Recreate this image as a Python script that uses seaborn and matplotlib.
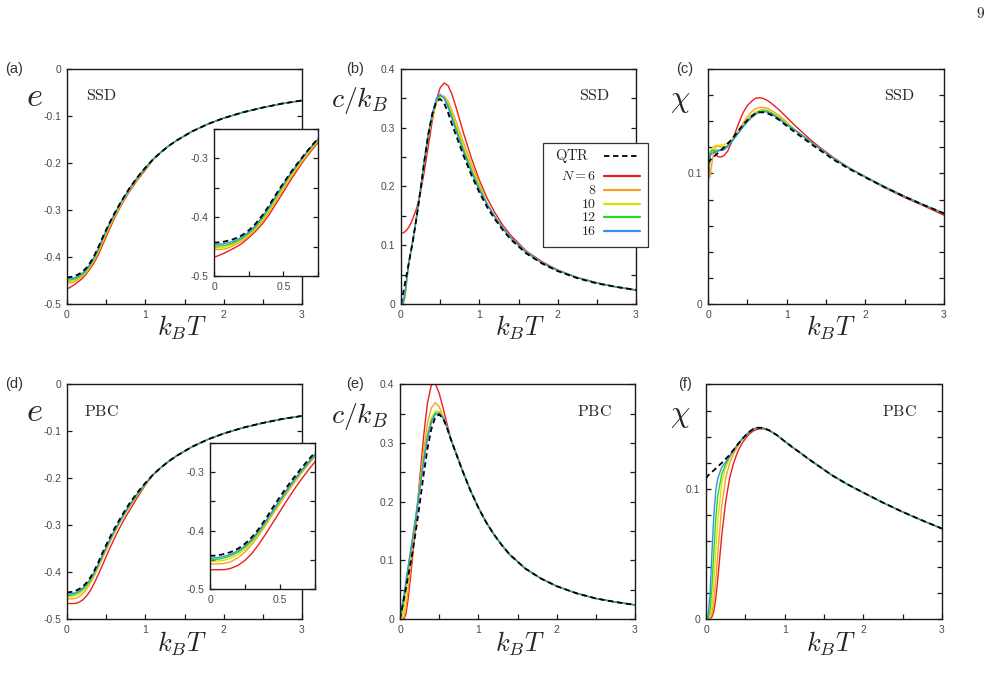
import matplotlib
matplotlib.use("Agg")
import matplotlib.pyplot as plt
from matplotlib.lines import Line2D
from matplotlib.patches import Rectangle
from matplotlib.ticker import MultipleLocator
import seaborn as sns

# temperature grid (k_B T)
T_lo = [0, 0.025, 0.05, 0.075, 0.1, 0.125, 0.15, 0.2, 0.25, 0.3, 0.35, 0.4,
        0.45, 0.5, 0.55, 0.6, 0.65, 0.7, 0.75, 0.8, 0.9, 1.0]
T_hi = [1.1, 1.2, 1.3, 1.4, 1.6, 1.8, 2.0, 2.25, 2.5, 2.75, 3.0]
T = T_lo + T_hi

sizes = ["6", "8", "10", "12", "16"]
colors = ["#ee1d1d", "#f7a02a", "#e4dc00", "#1fdc1f", "#3a8fe4"]

# QTR (thermodynamic limit), same in both rows
e_qtr = [-0.443, -0.443, -0.4425, -0.4415, -0.440, -0.4385, -0.4365, -0.431, -0.4225, -0.411, -0.3965,
         -0.379, -0.360, -0.342, -0.325, -0.309, -0.294, -0.2795, -0.266, -0.253, -0.230, -0.210]
e_tail = [-0.192, -0.177, -0.1635, -0.152, -0.1325, -0.117, -0.1045, -0.092, -0.082, -0.0735, -0.067]
c_qtr = [0.0, 0.017, 0.035, 0.052, 0.070, 0.088, 0.106, 0.148, 0.195, 0.245, 0.290,
         0.324, 0.344, 0.349, 0.342, 0.326, 0.306, 0.288, 0.270, 0.252, 0.219, 0.190]
c_tail = [0.165, 0.144, 0.126, 0.110, 0.086, 0.069, 0.056, 0.044, 0.035, 0.029, 0.024]
chi_qtr = [0.108, 0.110, 0.1115, 0.1128, 0.1142, 0.1156, 0.117, 0.1198, 0.1228, 0.126, 0.1298,
           0.1338, 0.1375, 0.1408, 0.1436, 0.1458, 0.1468, 0.1468, 0.1461, 0.1449, 0.1412, 0.1364]
chi_tail = [0.1318, 0.1275, 0.1230, 0.1188, 0.1104, 0.1033, 0.0970, 0.0893, 0.0822, 0.0756, 0.0694]

# (a) energy, SSD
e_ssd_6 = [-0.468, -0.466, -0.4635, -0.461, -0.458, -0.455, -0.452, -0.445, -0.435, -0.424, -0.411,
           -0.395, -0.376, -0.357, -0.338, -0.320, -0.303, -0.2875, -0.273, -0.260, -0.236, -0.215]
e_ssd_8 = [-0.455, -0.455, -0.4548, -0.454, -0.4525, -0.450, -0.447, -0.441, -0.4325, -0.421, -0.407,
           -0.390, -0.371, -0.352, -0.334, -0.317, -0.301, -0.2855, -0.271, -0.258, -0.234, -0.213]
e_ssd_10 = [-0.452, -0.452, -0.4518, -0.451, -0.4495, -0.447, -0.4445, -0.4385, -0.430, -0.4185, -0.404,
            -0.387, -0.368, -0.349, -0.331, -0.314, -0.298, -0.283, -0.2695, -0.2565, -0.2325, -0.2115]
e_ssd_12 = [-0.449, -0.449, -0.4488, -0.448, -0.4467, -0.4448, -0.4425, -0.4365, -0.428, -0.4165, -0.4015,
            -0.384, -0.365, -0.346, -0.328, -0.312, -0.296, -0.2815, -0.268, -0.255, -0.231, -0.2105]
e_ssd_16 = [-0.446, -0.446, -0.4457, -0.445, -0.4437, -0.4420, -0.4400, -0.434, -0.4255, -0.414, -0.399,
            -0.3815, -0.3625, -0.344, -0.3265, -0.3105, -0.295, -0.2805, -0.267, -0.254, -0.2305, -0.210]

# (d) energy, PBC
e_pbc_6 = [-0.467, -0.467, -0.467, -0.467, -0.4668, -0.466, -0.4645, -0.4595, -0.451, -0.439, -0.423,
           -0.405, -0.386, -0.367, -0.348, -0.330, -0.313, -0.297, -0.282, -0.268, -0.2405, -0.2145]
e_pbc_8 = [-0.457, -0.457, -0.457, -0.4568, -0.4562, -0.455, -0.453, -0.4465, -0.4365, -0.4235, -0.4075,
           -0.390, -0.3715, -0.3535, -0.3355, -0.3185, -0.3025, -0.2875, -0.2735, -0.2605, -0.236, -0.2135]
e_pbc_10 = [-0.4525, -0.4525, -0.4523, -0.4518, -0.4508, -0.4492, -0.447, -0.441, -0.432, -0.420, -0.405,
            -0.3875, -0.369, -0.351, -0.333, -0.3165, -0.301, -0.286, -0.272, -0.259, -0.235, -0.2125]
e_pbc_12 = [-0.4495, -0.4495, -0.4492, -0.4484, -0.447, -0.4452, -0.443, -0.437, -0.4285, -0.417, -0.4025,
            -0.385, -0.367, -0.349, -0.3315, -0.315, -0.2995, -0.285, -0.271, -0.258, -0.234, -0.212]
e_pbc_16 = [-0.447, -0.4469, -0.4464, -0.4455, -0.4441, -0.4424, -0.4403, -0.4345, -0.426, -0.4145, -0.400,
            -0.383, -0.365, -0.347, -0.3295, -0.313, -0.298, -0.2835, -0.2695, -0.2565, -0.2325, -0.211]

# (b) specific heat, SSD
c_ssd_6 = [0.120, 0.121, 0.123, 0.126, 0.131, 0.137, 0.145, 0.163, 0.190, 0.228, 0.270,
           0.312, 0.346, 0.368, 0.376, 0.372, 0.357, 0.336, 0.313, 0.290, 0.248, 0.211]
c_ssd_8 = [0.0, 0.0, 0.010, 0.040, 0.068, 0.089, 0.107, 0.150, 0.196, 0.244, 0.287,
           0.318, 0.342, 0.353, 0.354, 0.345, 0.330, 0.312, 0.293, 0.274, 0.238, 0.206]
c_ssd_10 = [0.0, 0.0, 0.012, 0.042, 0.069, 0.089, 0.107, 0.150, 0.196, 0.245, 0.288,
            0.320, 0.344, 0.354, 0.352, 0.341, 0.325, 0.306, 0.287, 0.268, 0.232, 0.201]
c_ssd_12 = [0.0, 0.0, 0.014, 0.044, 0.070, 0.089, 0.107, 0.149, 0.196, 0.246, 0.289,
            0.322, 0.346, 0.355, 0.351, 0.338, 0.320, 0.300, 0.281, 0.262, 0.228, 0.197]
c_ssd_16 = [0.0, 0.002, 0.018, 0.046, 0.071, 0.089, 0.107, 0.149, 0.196, 0.247, 0.291,
            0.325, 0.349, 0.357, 0.350, 0.335, 0.316, 0.296, 0.277, 0.258, 0.224, 0.194]
c_ssd_tail_6 = [0.180, 0.155, 0.134, 0.117, 0.090, 0.072, 0.058, 0.045, 0.036, 0.029, 0.023]
c_ssd_tail = [0.170, 0.148, 0.129, 0.113, 0.088, 0.070, 0.057, 0.045, 0.036, 0.029, 0.024]

# (e) specific heat, PBC
c_pbc_6 = [0.0, 0.0, 0.0, 0.008, 0.030, 0.060, 0.092, 0.160, 0.236, 0.310, 0.368,
           0.399, 0.402, 0.385, 0.360, 0.333, 0.308, 0.289, 0.271, 0.253, 0.219, 0.190]
c_pbc_8 = [0.0, 0.0, 0.003, 0.018, 0.045, 0.075, 0.105, 0.165, 0.228, 0.287, 0.333,
           0.360, 0.369, 0.362, 0.346, 0.327, 0.307, 0.288, 0.270, 0.252, 0.219, 0.190]
c_pbc_10 = [0.0, 0.002, 0.015, 0.040, 0.068, 0.095, 0.120, 0.172, 0.225, 0.276, 0.318,
            0.343, 0.355, 0.354, 0.344, 0.327, 0.306, 0.288, 0.270, 0.252, 0.219, 0.190]
c_pbc_12 = [0.0, 0.012, 0.034, 0.058, 0.083, 0.107, 0.129, 0.174, 0.222, 0.270, 0.311,
            0.338, 0.351, 0.352, 0.343, 0.327, 0.306, 0.288, 0.270, 0.252, 0.219, 0.190]
c_pbc_16 = [0.0, 0.020, 0.042, 0.064, 0.086, 0.107, 0.128, 0.170, 0.218, 0.266, 0.307,
            0.335, 0.349, 0.350, 0.343, 0.327, 0.306, 0.288, 0.270, 0.252, 0.219, 0.190]

# (c) susceptibility, SSD
chi_ssd_6 = [0.090, 0.112, 0.118, 0.117, 0.1145, 0.113, 0.1125, 0.1135, 0.117, 0.124, 0.132,
             0.140, 0.147, 0.152, 0.155, 0.1575, 0.158, 0.1575, 0.156, 0.154, 0.149, 0.143]
chi_ssd_8 = [0.104, 0.097, 0.108, 0.117, 0.1205, 0.121, 0.1205, 0.120, 0.121, 0.1245, 0.129,
             0.134, 0.139, 0.1435, 0.147, 0.1495, 0.1505, 0.1505, 0.150, 0.1485, 0.1445, 0.1395]
chi_ssd_10 = [0.100, 0.112, 0.119, 0.121, 0.1215, 0.1215, 0.1215, 0.122, 0.1235, 0.1255, 0.1295,
              0.1335, 0.1375, 0.1415, 0.1445, 0.147, 0.1485, 0.149, 0.1485, 0.147, 0.143, 0.1385]
chi_ssd_12 = [0.097, 0.116, 0.118, 0.1175, 0.1175, 0.118, 0.118, 0.119, 0.1215, 0.1245, 0.1285,
              0.1325, 0.1365, 0.140, 0.1433, 0.1458, 0.1475, 0.148, 0.1477, 0.1465, 0.1425, 0.1378]
chi_ssd_16 = [0.104, 0.114, 0.1155, 0.116, 0.1165, 0.117, 0.1175, 0.118, 0.1205, 0.124, 0.128,
              0.132, 0.136, 0.1395, 0.1425, 0.145, 0.1468, 0.1474, 0.147, 0.1458, 0.1418, 0.1372]
chi_ssd_tail_6 = [0.137, 0.1315, 0.126, 0.121, 0.112, 0.104, 0.0972, 0.089, 0.0815, 0.075, 0.068]
chi_ssd_tail = [0.1335, 0.129, 0.1245, 0.1200, 0.1113, 0.1039, 0.0974, 0.0896, 0.0824, 0.0757, 0.0694]

# (f) susceptibility, PBC
chi_pbc_6 = [0.0, 0.0, 0.0002, 0.0015, 0.006, 0.016, 0.031, 0.064, 0.090, 0.108, 0.1195,
             0.128, 0.134, 0.1385, 0.142, 0.1443, 0.1456, 0.146, 0.1457, 0.1448, 0.1412, 0.1364]
chi_pbc_8 = [0.0, 0.0, 0.0008, 0.004, 0.014, 0.030, 0.050, 0.087, 0.108, 0.1195, 0.1268,
             0.1322, 0.1368, 0.1405, 0.1433, 0.1456, 0.1467, 0.1468, 0.1461, 0.1449, 0.1412, 0.1364]
chi_pbc_10 = [0.0, 0.0, 0.002, 0.010, 0.028, 0.052, 0.075, 0.104, 0.1165, 0.1235, 0.129,
              0.1335, 0.1374, 0.1408, 0.1436, 0.1458, 0.1468, 0.1468, 0.1461, 0.1449, 0.1412, 0.1364]
chi_pbc_12 = [0.0, 0.0005, 0.006, 0.025, 0.052, 0.078, 0.095, 0.111, 0.119, 0.1245, 0.1295,
              0.1337, 0.1375, 0.1408, 0.1436, 0.1458, 0.1468, 0.1468, 0.1461, 0.1449, 0.1412, 0.1364]
chi_pbc_16 = [0.0, 0.002, 0.018, 0.050, 0.080, 0.099, 0.108, 0.1165, 0.1205, 0.125, 0.1297,
              0.1338, 0.1375, 0.1408, 0.1436, 0.1458, 0.1468, 0.1468, 0.1461, 0.1449, 0.1412, 0.1364]

# tick labels
x_ticks, x_labels = [0, 1, 2, 3], ["0", "1", "2", "3"]
e_ticks = [0, -0.1, -0.2, -0.3, -0.4, -0.5]
e_labels = ["0", "-0.1", "-0.2", "-0.3", "-0.4", "-0.5"]
c_ticks, c_labels = [0, 0.1, 0.2, 0.3, 0.4], ["0", "0.1", "0.2", "0.3", "0.4"]
chi_ticks, chi_labels = [0, 0.1], ["0", "0.1"]
in_x_ticks, in_x_labels = [0, 0.5], ["0", "0.5"]
in_y_ticks, in_y_labels = [-0.3, -0.4, -0.5], ["-0.3", "-0.4", "-0.5"]

sns.set_theme(style="ticks")
plt.rcParams.update({
    "font.family": ["Liberation Sans", "DejaVu Sans"],
    "mathtext.fontset": "cm",
    "axes.unicode_minus": False,
})

W, H = 993, 689
fig = plt.figure(figsize=(W / 100, H / 100), dpi=100)
fig.patch.set_facecolor("white")


def fx(px):
    return px / W


def fy(py):
    return 1 - py / H


def panel(l, t, r, b, xlim, ylim, xt, xtl, yt, ytl, xminor, yminor):
    ax = fig.add_axes([fx(l), fy(b), (r - l) / W, (b - t) / H])
    ax.set_facecolor("white")
    ax.set_xlim(*xlim)
    ax.set_ylim(*ylim)
    ax.set_xticks(xt, xtl)
    ax.set_yticks(yt, ytl)
    ax.xaxis.set_minor_locator(MultipleLocator(xminor))
    if yminor:
        ax.yaxis.set_minor_locator(MultipleLocator(yminor))
    ax.tick_params(which="both", direction="in", right=True, top=False,
                   length=3.5, width=0.9, labelsize=7.5, labelcolor="#4a4a4a",
                   pad=4, color="#1a1a1a")
    for sp in ax.spines.values():
        sp.set_linewidth(1.0)
        sp.set_color("#1a1a1a")
    return ax


def draw(ax, curves, tails, qtr, qtr_tail):
    for vals, tail, col in zip(curves, tails, colors):
        sns.lineplot(x=T, y=vals + tail, ax=ax, color=col, lw=1.0)
    sns.lineplot(x=T, y=qtr + qtr_tail, ax=ax, color="black", lw=1.3,
                 linestyle=(0, (3.0, 2.0)))


e_ssd = [e_ssd_6, e_ssd_8, e_ssd_10, e_ssd_12, e_ssd_16]
e_pbc = [e_pbc_6, e_pbc_8, e_pbc_10, e_pbc_12, e_pbc_16]
c_ssd = [c_ssd_6, c_ssd_8, c_ssd_10, c_ssd_12, c_ssd_16]
c_pbc = [c_pbc_6, c_pbc_8, c_pbc_10, c_pbc_12, c_pbc_16]
chi_ssd = [chi_ssd_6, chi_ssd_8, chi_ssd_10, chi_ssd_12, chi_ssd_16]
chi_pbc = [chi_pbc_6, chi_pbc_8, chi_pbc_10, chi_pbc_12, chi_pbc_16]

rows = [(69, 304, e_ssd, c_ssd, chi_ssd,
         [c_ssd_tail_6] + [c_ssd_tail] * 4, [chi_ssd_tail_6] + [chi_ssd_tail] * 4,
         "SSD", "abc", (214, 129, 318, 276), [67, 401, 708]),
        (384.5, 619, e_pbc, c_pbc, chi_pbc,
         [c_tail] * 5, [chi_tail] * 5,
         "PBC", "def", (210, 443, 315, 589), [67, 400, 706])]

for top, bot, e_set, c_set, chi_set, c_tails, chi_tails, bc, letters, ins, lefts in rows:
    # energy
    ax = panel(lefts[0], top, lefts[0] + 235, bot, (0, 3), (-0.5, 0), x_ticks, x_labels,
               e_ticks, e_labels, 0.5, None)
    draw(ax, e_set, [e_tail] * 5, e_qtr, e_tail)
    axi = panel(ins[0], ins[1], ins[2], ins[3], (0, 0.75), (-0.5, -0.25), in_x_ticks, in_x_labels,
                in_y_ticks, in_y_labels, 0.25, 0.05)
    axi.set_zorder(5)
    draw(axi, e_set, [e_tail] * 5, e_qtr, e_tail)
    # specific heat
    ax = panel(lefts[1], top, lefts[1] + 235, bot, (0, 3), (0, 0.4), x_ticks, x_labels,
               c_ticks, c_labels, 0.5, 0.05)
    draw(ax, c_set, c_tails, c_qtr, c_tail)
    # susceptibility
    ax = panel(lefts[2], top, lefts[2] + 236, bot, (0, 3), (0, 0.18), x_ticks, x_labels,
               chi_ticks, chi_labels, 0.5, 0.02)
    draw(ax, chi_set, chi_tails, chi_qtr, chi_tail)

    dy = top - 69
    for xl, lab in zip([14, 355, 685], letters):
        fig.text(fx(xl), fy(69 + dy), f"({lab})", ha="center", va="center",
                 fontsize=10.5, color="#333333")
    for xc in [182, 520, 831]:
        fig.text(fx(xc), fy(328 + dy), r"$k_BT$", ha="center", va="center", fontsize=19)
    fig.text(fx(34), fy(96 + dy), r"$e$", ha="center", va="center", fontsize=25)
    fig.text(fx(360), fy(101 + dy), r"$c/k_B$", ha="center", va="center", fontsize=20)
    fig.text(fx(680), fy(100 + dy), r"$\chi$", ha="center", va="center", fontsize=22)
    for xc in [101, 594, 899]:
        fig.text(fx(xc), fy(96 + dy), r"$\mathrm{" + bc + "}$", ha="center", va="center",
                 fontsize=11.5)

# legend of panel (b), drawn as a box over the panel
fig.add_artist(Rectangle((fx(543), fy(247)), 105 / W, 104 / H, transform=fig.transFigure,
                         facecolor="white", edgecolor="#333333", lw=0.9, zorder=10))
fig.text(fx(555), fy(156), r"$\mathrm{QTR}$", ha="left", va="center", fontsize=10.5, zorder=11)
fig.add_artist(Line2D([fx(604), fx(640)], [fy(156), fy(156)], transform=fig.transFigure,
                      color="black", lw=1.3, linestyle=(0, (3.0, 2.0)), zorder=11))
leg_y = [176, 190, 204, 217.5, 231]
for i, (n, col, yy) in enumerate(zip(sizes, colors, leg_y)):
    lab = r"$N=" + n + "$" if i == 0 else r"$" + n + "$"
    fig.text(fx(596), fy(yy), lab, ha="right", va="center", fontsize=10, zorder=11)
    fig.add_artist(Line2D([fx(604), fx(640)], [fy(yy), fy(yy)], transform=fig.transFigure,
                          color=col, lw=1.6, zorder=11))

fig.text(fx(981), fy(13), r"$\mathrm{9}$", ha="center", va="center", fontsize=11)

fig.savefig("out.png", dpi=100, facecolor="white")
